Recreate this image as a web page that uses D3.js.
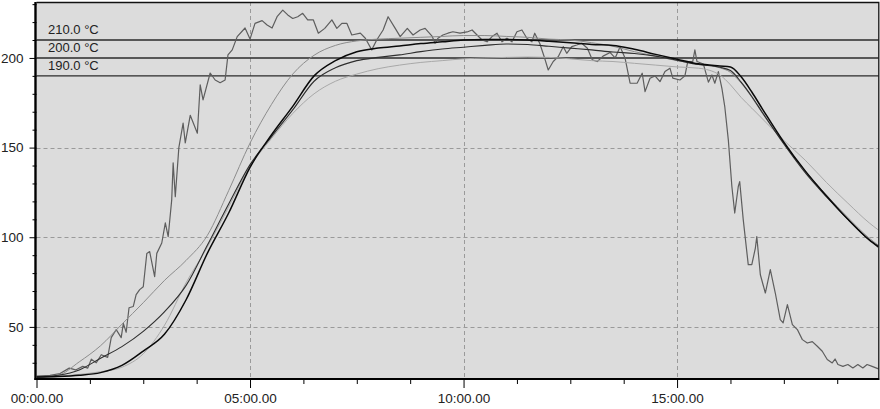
<!DOCTYPE html>
<html>
<head>
<meta charset="utf-8">
<script src="https://cdn.jsdelivr.net/npm/d3@7"></script>
<style>
  html, body { margin: 0; padding: 0; background: #fff; }
  svg { display: block; font-family: "Liberation Sans", Arial, sans-serif; }
</style>
</head>
<body>
<svg id="chart" width="880" height="409"></svg>
<script>
// Time axis (seconds) and its labels
const xMajorTicks = [0, 300, 600, 900];
const xTickLabels = ["00:00.00", "05:00.00", "10:00.00", "15:00.00"];
const yMajorTicks = [50, 100, 150, 200];

// Reference temperature levels
const thresholds = [210, 200, 190];
const thresholdLabels = ["210.0 °C", "200.0 °C", "190.0 °C"];

// Fast-responding probe (noisy trace)
const probeTime = [
  0, 19, 33, 46, 55, 65, 72, 77, 84, 91,
  100, 105, 112, 119, 122, 126, 130, 136, 140, 145,
  150, 155, 159, 166, 169, 176, 181, 185, 190, 192,
  195, 200, 206, 209, 216, 226, 230, 234, 244, 251,
  258, 265, 269, 275, 282, 293, 300, 307, 317, 324,
  331, 338, 346, 353, 360, 367, 374, 381, 389, 396,
  405, 415, 422, 429, 436, 443, 455, 462, 471, 478,
  487, 494, 504, 511, 521, 529, 539, 546, 556, 560,
  564, 571, 578, 585, 595, 605, 612, 619, 626, 633,
  640, 647, 654, 661, 668, 675, 682, 689, 696, 700,
  707, 714, 719, 726, 733, 740, 745, 752, 759, 766,
  774, 781, 788, 796, 806, 813, 820, 827, 834, 844,
  851, 855, 862, 869, 876, 883, 890, 894, 904, 911,
  915, 922, 925, 928, 937, 944, 949, 953, 958, 963,
  967, 972, 977, 981, 986, 988, 993, 1000, 1005, 1010,
  1012, 1017, 1024, 1031, 1038, 1045, 1049, 1055, 1062, 1069,
  1076, 1083, 1090, 1097, 1104, 1111, 1118, 1122, 1126, 1133,
  1140, 1147, 1154, 1161, 1167, 1174, 1183
];
const probeTemp = [
  22.5, 23, 24, 27, 26, 28, 27, 32, 30, 34.5,
  33, 44, 48.5, 44, 52, 47, 60.7, 61.4, 68, 70.8,
  72.4, 91, 92, 78, 91, 96.8, 108, 100.3, 121, 141.5,
  122.6, 150, 163.6, 152.6, 168, 158, 185, 176.6, 191.6, 187.7,
  186.2, 187.7, 201.7, 204.5, 211.9, 216.7, 210.5, 219.3, 220.8, 218.4,
  216.7, 223, 226.7, 224, 222, 223, 224.9, 221.2, 221.2, 213.8,
  216.5, 221.2, 216.5, 219.3, 219.3, 212.8, 213.8, 211, 204.5, 210,
  215.6, 223, 216.5, 211.9, 216.5, 212.8, 215.6, 216.5, 212, 208.2,
  211, 212.8, 213.8, 214.6, 213.8, 214.5, 215.6, 212.8, 210, 209,
  211.9, 213.8, 209, 211, 209, 214.6, 215.6, 211, 209, 213.8,
  208.2, 199.8, 193.3, 198, 200.7, 206.3, 202.6, 206.3, 207.2, 208.2,
  205.4, 198.9, 198, 201, 203, 200, 206.3, 199.8, 185.9, 186,
  191.5, 181.2, 188.7, 190, 186.8, 192.4, 194.3, 188.7, 187.7, 190,
  198, 198, 204.5, 198, 196.6, 186.5, 190.5, 185.9, 192.4, 183,
  172.9, 154.3, 128.3, 113.5, 128.3, 131, 109.7, 84.7, 84.7, 94,
  100.4, 79.1, 68.9, 81.9, 68.9, 54, 52.2, 62.4, 51.3, 48.5,
  42.9, 41, 41.8, 39.2, 36.4, 31.8, 29.9, 32.1, 29, 28,
  29, 27.1, 29, 27.1, 29, 28, 26.6
];

// Slower probes, sampled on a shared time base
const smoothTime = [
  0, 30, 60, 90, 120, 150, 180, 210, 240, 270,
  300, 330, 360, 390, 420, 450, 480, 510, 540, 570,
  600, 630, 660, 690, 720, 750, 780, 810, 840, 870,
  900, 930, 960, 975, 990, 1005, 1020, 1050, 1080, 1110,
  1140, 1170, 1183
];
const tempA = [
  22, 23, 30.5, 39.5, 51.5, 63.5, 76, 87, 101, 126,
  152.5, 174, 191, 201.5, 207, 209.5, 210.5, 211, 211.5, 212,
  212.5, 212.5, 212, 211.5, 210.5, 210, 208.5, 206.5, 203.5, 201,
  198.5, 196.5, 194.5, 192, 186, 178, 169, 152.5, 137, 123.5,
  111, 99.5, 95.5
];
const tempB = [
  22, 22.3, 23, 24.5, 28.5, 36.5, 46, 65, 91, 113.5,
  139, 157, 173, 190, 198.5, 203.5, 205.5, 206.7, 208, 209,
  210, 210.3, 210.3, 210, 209.3, 208.5, 207.5, 207, 204.8, 202,
  199.3, 196.7, 195.5, 195, 189.5, 181, 171.5, 153, 137, 123,
  110, 98.5, 94.5
];
const tempC = [
  22, 23, 26, 32.5, 39, 47.5, 58.5, 73, 95.5, 118.5,
  140.5, 156, 171, 187, 194.5, 198.5, 200.3, 201.7, 203.5, 205,
  206, 207, 207.8, 207.5, 206.5, 205.5, 204.5, 203.3, 202.5, 201,
  198.7, 196.3, 194.8, 193, 186.5, 178.5, 169.5, 152, 136, 122.5,
  110, 98.5, 95
];
const tempD = [
  22, 22.5, 23.5, 25, 27.5, 35, 51, 74.5, 94.5, 117,
  139.4, 155, 169, 180, 187, 191, 194, 196, 197.5, 198.5,
  199.5, 200, 200.3, 200.5, 200.3, 199.5, 198.5, 198, 197, 196,
  195, 194.3, 190.5, 185, 178, 172, 166, 154, 143, 130.5,
  119, 108, 104
];

const svg = d3.select("#chart");
const plotLeft = 36.5, plotRight = 878.5, plotTop = 2, plotBottom = 378;

const x = d3.scaleLinear().domain([0, 1183]).range([plotLeft, plotRight]);
const y = d3.scaleLinear().domain([21.5, 231.2]).range([plotBottom, plotTop]);

// plot background
svg.append("rect")
  .attr("x", plotLeft).attr("y", plotTop)
  .attr("width", plotRight - plotLeft).attr("height", plotBottom - plotTop)
  .attr("fill", "#dcdcdc");

svg.append("clipPath").attr("id", "plotClip")
  .append("rect")
  .attr("x", plotLeft).attr("y", plotTop)
  .attr("width", plotRight - plotLeft).attr("height", plotBottom - plotTop);

// dashed grid
const grid = svg.append("g")
  .attr("stroke", "#9a9a9a").attr("stroke-width", 1)
  .attr("stroke-dasharray", "4,3").attr("fill", "none");
grid.selectAll("line.v").data(xMajorTicks.filter(d => d > 0)).join("line")
  .attr("class", "v")
  .attr("x1", d => Math.round(x(d)) + 0.5).attr("x2", d => Math.round(x(d)) + 0.5)
  .attr("y1", plotTop).attr("y2", plotBottom);
grid.selectAll("line.h").data(yMajorTicks.filter(d => d !== 200)).join("line")
  .attr("class", "h")
  .attr("y1", d => Math.round(y(d)) + 0.5).attr("y2", d => Math.round(y(d)) + 0.5)
  .attr("x1", plotLeft).attr("x2", plotRight);

// reference levels
const lev = svg.append("g");
lev.selectAll("line").data(thresholds).join("line")
  .attr("x1", plotLeft).attr("x2", plotRight)
  .attr("y1", d => y(d)).attr("y2", d => y(d))
  .attr("stroke", "#2b2b2b").attr("stroke-width", 1.4);
lev.selectAll("text").data(thresholds).join("text")
  .attr("x", 48).attr("y", d => y(d) - 6)
  .attr("font-size", 13).attr("fill", "#222")
  .text((d, i) => thresholdLabels[i]);

// traces
const plot = svg.append("g").attr("clip-path", "url(#plotClip)");
const smoothLine = d3.line()
  .x((d, i) => x(smoothTime[i])).y(d => y(d))
  .curve(d3.curveMonotoneX);
const probeLine = d3.line()
  .x((d, i) => x(probeTime[i])).y(d => y(d));

const traces = [
  { values: tempD, color: "#a8a8a8", width: 1 },
  { values: tempA, color: "#8c8c8c", width: 1 },
  { values: tempC, color: "#2e2e2e", width: 1.1 },
  { values: tempB, color: "#0a0a0a", width: 1.5 }
];
plot.append("path")
  .attr("d", probeLine(probeTemp))
  .attr("fill", "none").attr("stroke", "#5e5e5e").attr("stroke-width", 1.2)
  .attr("stroke-linejoin", "round");
plot.selectAll("path.smooth").data(traces).join("path")
  .attr("class", "smooth")
  .attr("d", d => smoothLine(d.values))
  .attr("fill", "none")
  .attr("stroke", d => d.color)
  .attr("stroke-width", d => d.width)
  .attr("stroke-linejoin", "round");

// frame: top and right border
svg.append("path")
  .attr("d", `M${plotLeft},${plotTop + 0.5}H${plotRight + 0.3}V${plotBottom}`)
  .attr("fill", "none").attr("stroke", "#111").attr("stroke-width", 1.3);

// y axis
const yMinor = d3.range(30, 231, 10).filter(d => !yMajorTicks.includes(d));
const yAxisG = svg.append("g").attr("transform", `translate(${plotLeft},0)`);
yAxisG.call(d3.axisLeft(y).tickValues(yMinor).tickSize(4).tickFormat(""));
yAxisG.call(g => g.select(".domain").remove());
const yMajG = svg.append("g").attr("transform", `translate(${plotLeft},0)`);
yMajG.call(d3.axisLeft(y).tickValues(yMajorTicks).tickSize(7).tickPadding(6).tickFormat(d3.format("d")));
yMajG.call(g => g.select(".domain").remove());

// x axis
const xMinor = d3.range(75, 1183, 75).filter(d => d % 300 !== 0);
const xAxisG = svg.append("g").attr("transform", `translate(0,${plotBottom + 1})`);
xAxisG.call(d3.axisBottom(x).tickValues(xMinor).tickSize(5).tickFormat(""));
xAxisG.call(g => g.select(".domain").remove());
const xMajG = svg.append("g").attr("transform", `translate(0,${plotBottom + 1})`);
xMajG.call(d3.axisBottom(x).tickValues(xMajorTicks).tickSize(9).tickPadding(5)
  .tickFormat((d, i) => xTickLabels[i]));
xMajG.call(g => g.select(".domain").remove());

svg.selectAll(".tick line").attr("stroke", "#000").attr("stroke-width", 1);
svg.selectAll(".tick text")
  .attr("font-family", "'Liberation Sans', Arial, sans-serif")
  .attr("font-size", 13.5).attr("fill", "#222");

// axis lines
svg.append("line")
  .attr("x1", plotLeft - 1).attr("x2", plotLeft - 1)
  .attr("y1", plotTop).attr("y2", plotBottom + 2)
  .attr("stroke", "#000").attr("stroke-width", 2.4);
svg.append("line")
  .attr("x1", plotLeft - 2).attr("x2", plotRight + 1)
  .attr("y1", plotBottom + 1).attr("y2", plotBottom + 1)
  .attr("stroke", "#000").attr("stroke-width", 2);
</script>
</body>
</html>
